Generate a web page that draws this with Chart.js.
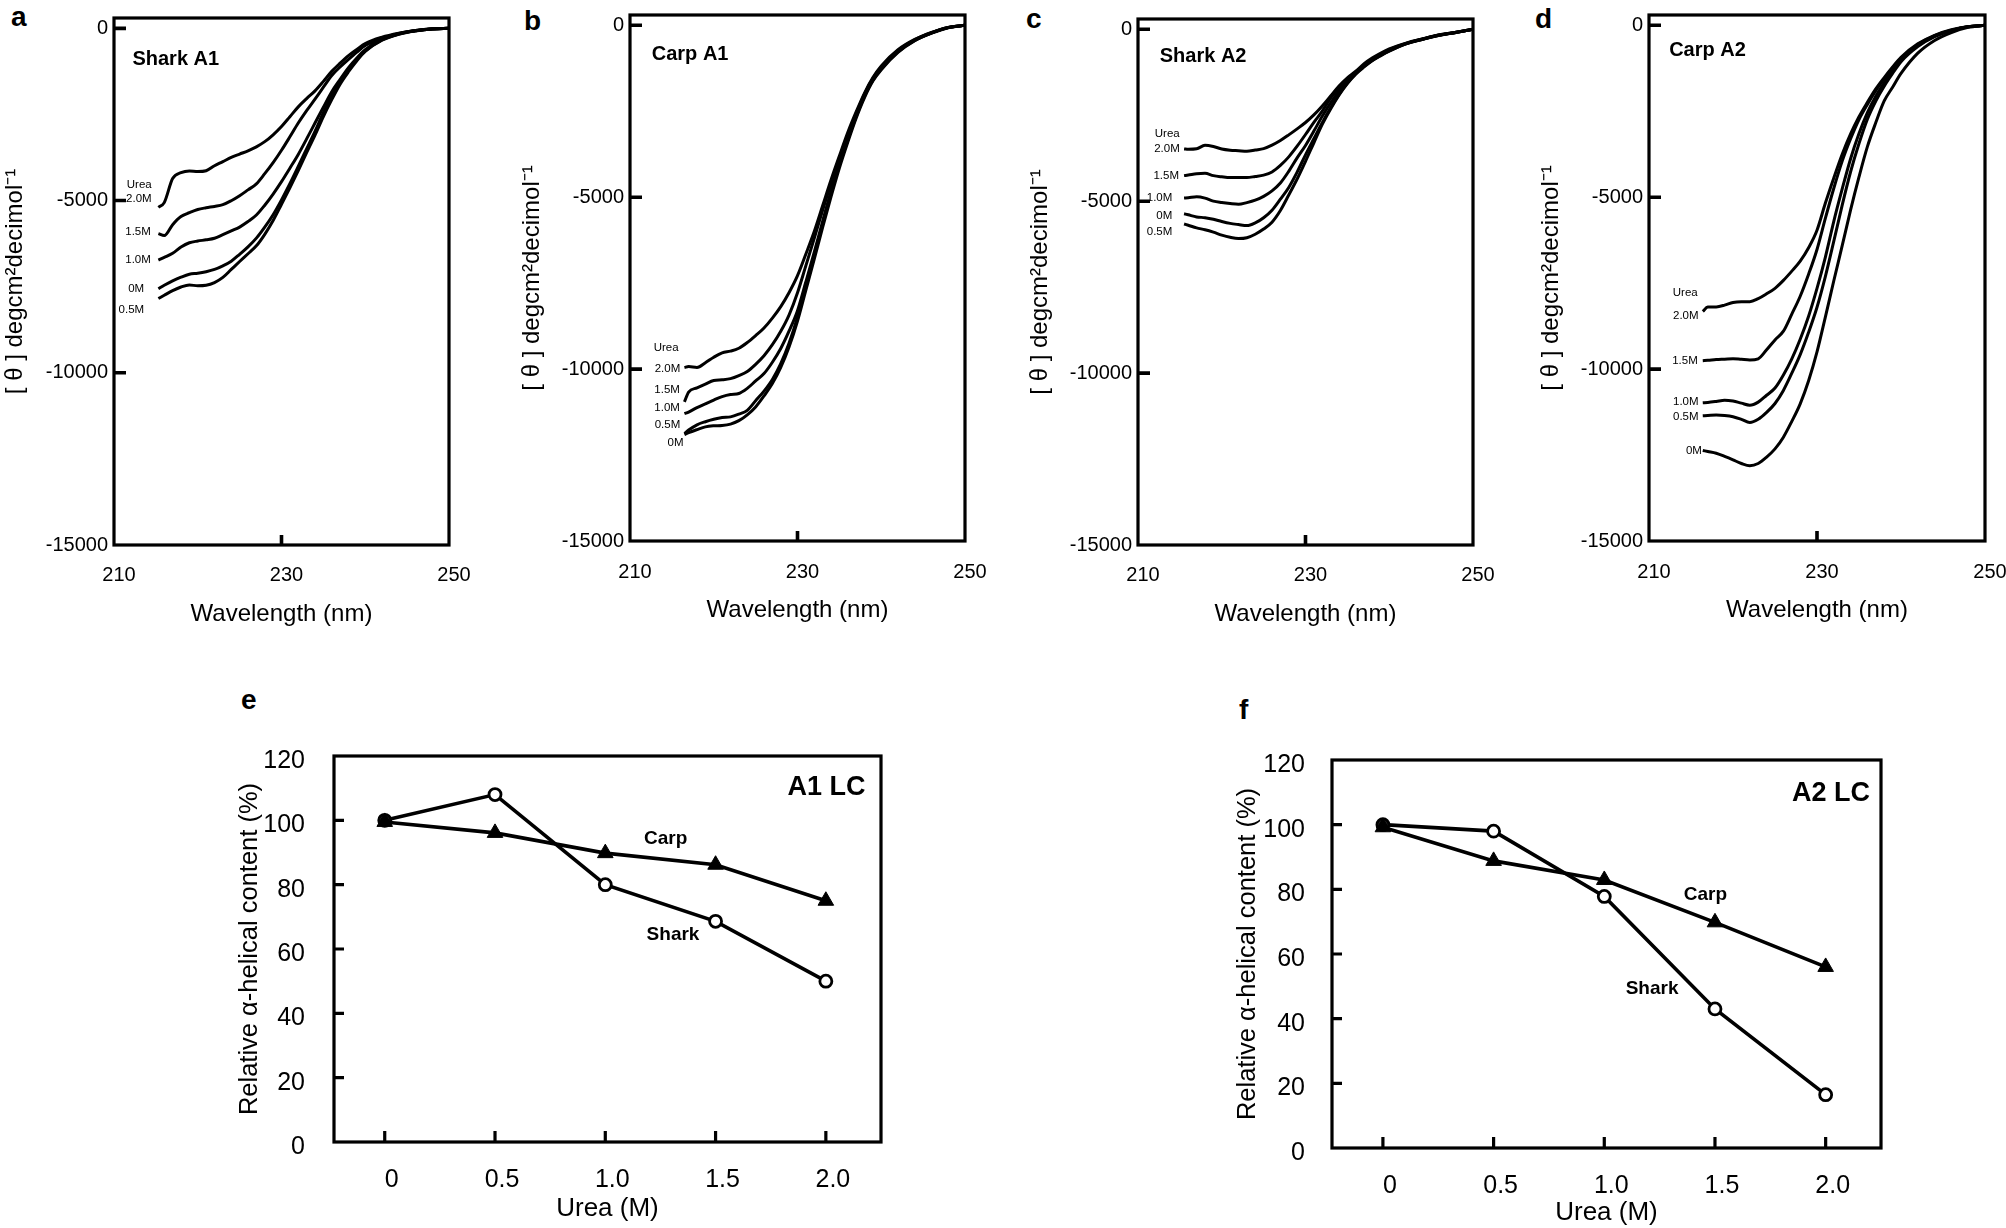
<!DOCTYPE html>
<html>
<head>
<meta charset="utf-8">
<script src="https://cdn.jsdelivr.net/npm/chart.js@4.4.1/dist/chart.umd.min.js"></script>
<style>
  html, body { margin: 0; padding: 0; background: #fff; }
  body { width: 2006px; height: 1228px; position: relative; overflow: hidden; }
  canvas { position: absolute; }
  .letter { position: absolute; font: bold 28px 'Liberation Sans', Arial, sans-serif; line-height: 1; color: #000; }
</style>
</head>
<body>
<div class="letter" style="left:11px;top:3px">a</div>
<div class="letter" style="left:524px;top:7px">b</div>
<div class="letter" style="left:1026px;top:5px">c</div>
<div class="letter" style="left:1535px;top:5px">d</div>
<div class="letter" style="left:241px;top:686px">e</div>
<div class="letter" style="left:1239px;top:696px">f</div>

<canvas id="cdSharkA1"></canvas>
<canvas id="cdCarpA1"></canvas>
<canvas id="cdSharkA2"></canvas>
<canvas id="cdCarpA2"></canvas>
<canvas id="helixA1"></canvas>
<canvas id="helixA2"></canvas>

<script>
// ---- data ----
// CD spectra, wavelength grids (nm)
const wlSharkA1 = [215.3, 216, 217, 218, 219, 220, 221, 222, 223, 224, 225, 226, 227, 228, 229, 230, 231, 232, 233, 234, 235, 236, 237, 238, 239, 240, 242, 244, 246, 248, 250];
const wlCarpA1  = [216.5, 217, 218, 219, 220, 221, 222, 223, 224, 225, 226, 227, 228, 229, 230, 231, 232, 233, 234, 235, 236, 237, 238, 239, 240, 242, 244, 246, 248, 250];
const wlSharkA2 = [215.5, 216, 217, 218, 219, 220, 221, 222, 223, 224, 225, 226, 227, 228, 229, 230, 231, 232, 233, 234, 235, 236, 237, 238, 239, 240, 242, 244, 246, 248, 250];
const wlCarpA2  = [216.4, 217, 218, 219, 220, 221, 222, 223, 224, 225, 226, 227, 228, 229, 230, 231, 232, 233, 234, 235, 236, 237, 238, 239, 240, 242, 244, 246, 248, 250];

// [theta] values per urea concentration
const sharkA1_0M  = [-7560, -7460, -7332, -7225, -7140, -7110, -7065, -7000, -6895, -6760, -6560, -6345, -6090, -5770, -5410, -4980, -4510, -4010, -3500, -2990, -2450, -1960, -1540, -1200, -890, -650, -335, -165, -72, -17, 0];
const sharkA1_05M = [-7845, -7750, -7617, -7510, -7450, -7475, -7460, -7380, -7230, -7000, -6770, -6545, -6315, -5980, -5580, -5110, -4630, -4130, -3610, -3100, -2560, -2070, -1620, -1260, -940, -670, -345, -170, -75, -18, 0];
const sharkA1_10M = [-6726, -6650, -6532, -6350, -6225, -6175, -6140, -6095, -5990, -5880, -5770, -5610, -5420, -5135, -4810, -4450, -4060, -3660, -3210, -2750, -2290, -1840, -1480, -1140, -860, -620, -315, -160, -70, -16, 0];
const sharkA1_15M = [-5961, -6018, -5700, -5465, -5353, -5260, -5210, -5170, -5120, -5005, -4860, -4690, -4515, -4220, -3900, -3540, -3150, -2750, -2390, -2055, -1710, -1370, -1120, -900, -690, -500, -290, -150, -65, -14, 0];
const sharkA1_20M = [-5196, -5060, -4362, -4191, -4140, -4160, -4134, -3990, -3870, -3745, -3650, -3555, -3440, -3290, -3090, -2850, -2565, -2280, -2040, -1815, -1540, -1250, -1010, -790, -610, -440, -255, -140, -60, -12, 0];

const carpA1_0M  = [-11906, -11850, -11760, -11680, -11650, -11640, -11600, -11500, -11330, -11100, -10780, -10420, -9950, -9350, -8600, -7700, -6800, -5880, -4990, -4150, -3400, -2700, -2100, -1620, -1290, -790, -450, -230, -70, 0];
const carpA1_05M = [-11871, -11774, -11620, -11530, -11460, -11410, -11390, -11310, -11200, -10920, -10640, -10300, -9840, -9240, -8490, -7580, -6690, -5780, -4890, -4070, -3340, -2660, -2070, -1600, -1270, -770, -440, -225, -68, 0];
const carpA1_10M = [-11298, -11250, -11120, -11010, -10900, -10800, -10740, -10710, -10560, -10345, -10130, -9800, -9400, -8890, -8300, -7460, -6600, -5700, -4830, -4030, -3300, -2630, -2040, -1580, -1250, -750, -430, -220, -66, 0];
const carpA1_15M = [-10954, -10667, -10545, -10434, -10330, -10310, -10277, -10190, -10070, -9860, -9610, -9290, -8900, -8420, -7780, -6990, -6194, -5380, -4620, -3900, -3200, -2570, -2000, -1550, -1210, -730, -420, -215, -62, 0];
const carpA1_20M = [-9956, -9925, -9950, -9816, -9655, -9528, -9478, -9393, -9228, -9025, -8803, -8516, -8182, -7771, -7283, -6653, -6000, -5250, -4500, -3800, -3120, -2520, -1970, -1520, -1180, -710, -410, -205, -60, 0];

const sharkA2_0M  = [-5365, -5395, -5457, -5480, -5525, -5590, -5645, -5680, -5709, -5630, -5480, -5260, -4940, -4600, -4155, -3650, -3180, -2715, -2280, -1890, -1560, -1290, -1080, -900, -755, -625, -420, -288, -170, -90, 0];
const sharkA2_05M = [-5663, -5700, -5777, -5830, -5900, -5985, -6050, -6086, -6063, -5960, -5810, -5610, -5270, -4820, -4355, -3840, -3300, -2765, -2315, -1915, -1580, -1305, -1095, -910, -765, -635, -425, -290, -172, -91, 0];
const sharkA2_10M = [-4908, -4900, -4870, -4910, -4999, -5040, -5070, -5090, -5040, -4970, -4860, -4700, -4470, -4130, -3740, -3380, -2960, -2530, -2140, -1800, -1500, -1260, -1060, -890, -740, -610, -415, -285, -168, -88, 0];
const sharkA2_15M = [-4256, -4240, -4200, -4190, -4256, -4290, -4313, -4313, -4313, -4280, -4240, -4150, -3960, -3710, -3400, -3060, -2705, -2380, -2000, -1710, -1460, -1245, -1050, -880, -720, -590, -410, -280, -165, -87, 0];
const sharkA2_20M = [-3478, -3490, -3475, -3375, -3410, -3480, -3515, -3530, -3546, -3510, -3470, -3370, -3235, -3070, -2895, -2710, -2490, -2230, -1940, -1650, -1410, -1220, -1000, -830, -690, -570, -400, -275, -160, -85, 0];

const carpA2_0M  = [-12366, -12396, -12446, -12540, -12640, -12745, -12812, -12745, -12560, -12320, -11980, -11520, -11010, -10340, -9500, -8480, -7430, -6410, -5370, -4410, -3530, -2830, -2200, -1800, -1400, -810, -440, -210, -60, 0];
const carpA2_05M = [-11358, -11350, -11336, -11350, -11385, -11460, -11553, -11460, -11260, -11000, -10620, -10120, -9580, -8930, -8200, -7300, -6280, -5230, -4260, -3440, -2730, -2200, -1770, -1400, -1060, -620, -330, -158, -44, 0];
const carpA2_10M = [-10980, -10970, -10940, -10905, -10930, -10990, -11049, -10960, -10760, -10550, -10170, -9700, -9130, -8460, -7650, -6740, -5700, -4760, -3880, -3150, -2540, -2060, -1670, -1330, -1010, -590, -315, -150, -42, 0];
const carpA2_15M = [-9755, -9745, -9721, -9710, -9698, -9716, -9733, -9700, -9440, -9150, -8897, -8400, -7880, -7240, -6520, -5610, -4740, -3950, -3300, -2740, -2300, -1900, -1560, -1250, -960, -560, -300, -140, -40, 0];
const carpA2_20M = [-8324, -8195, -8190, -8140, -8060, -8038, -8038, -7950, -7810, -7650, -7420, -7150, -6860, -6470, -5960, -5170, -4440, -3750, -3160, -2660, -2240, -1850, -1520, -1210, -930, -540, -290, -130, -35, 0];

// relative alpha-helical content vs urea
const ureaM = [0, 0.5, 1.0, 1.5, 2.0];
const sharkA1Helix = [100, 108, 80, 68.6, 50];
const carpA1Helix  = [99.5, 96.1, 89.8, 86.2, 75];
const sharkA2Helix = [100, 98, 77.8, 43, 16.5];
const carpA2Helix  = [99.2, 88.8, 82.9, 69.8, 56];

// tick labels
const cdTicksX = [210, 230, 250];
const cdTicksY = [0, -5000, -10000, -15000];
const helixTicksX = [0, 0.5, 1.0, 1.5, 2.0];
const helixTickLabelsX = ['0', '0.5', '1.0', '1.5', '2.0'];
const helixTicksY = [0, 20, 40, 60, 80, 100, 120];

// ---- drawing ----
const SANS = "'Liberation Sans', Arial, sans-serif";

Chart.defaults.color = '#000';
Chart.defaults.font.family = SANS;

// frame, inner tick marks and in-plot text
function decorFor(spec, notes) {
  return {
    id: 'decor',
    afterDatasetsDraw(chart) {
      const {ctx, chartArea: a, scales: {x, y}} = chart;
      ctx.save();
      ctx.strokeStyle = '#000';
      ctx.lineWidth = spec.frameWidth;
      ctx.strokeRect(a.left, a.top, a.right - a.left, a.bottom - a.top);
      ctx.lineWidth = spec.markWidth;
      ctx.lineCap = 'butt';
      ctx.beginPath();
      for (const v of spec.yMarks) {
        const py = y.getPixelForValue(v);
        ctx.moveTo(a.left, py);
        ctx.lineTo(a.left + spec.yMarkLen, py);
      }
      for (const v of spec.xMarks) {
        const px = x.getPixelForValue(v);
        ctx.moveTo(px, a.bottom);
        ctx.lineTo(px, a.bottom - spec.xMarkLen);
      }
      ctx.stroke();
      ctx.fillStyle = '#000';
      ctx.textBaseline = 'middle';
      for (const n of notes) {
        ctx.font = n.font;
        ctx.textAlign = n.align || 'left';
        ctx.fillText(n.text, x.getPixelForValue(n.x), y.getPixelForValue(n.y));
      }
      ctx.restore();
    }
  };
}

function buildPanel(id, geo, spec, datasets, notes) {
  const f = {x: geo.yTitleX - 18, y: geo.box.t - 20};
  f.w = geo.box.r + 40 - f.x;
  f.h = geo.xTitleY + 24 - f.y;
  const canvas = document.getElementById(id);
  canvas.width = f.w;
  canvas.height = f.h;
  Object.assign(canvas.style, {left: f.x + 'px', top: f.y + 'px', width: f.w + 'px', height: f.h + 'px'});
  const lhX = spec.xTitleSize * 1.2, lhY = spec.yTitleSize * 1.2;

  return new Chart(canvas, {
    type: 'line',
    data: {datasets},
    options: {
      responsive: false,
      animation: false,
      devicePixelRatio: 1,
      layout: {padding: {top: geo.box.t - f.y, right: f.x + f.w - geo.box.r, left: 0, bottom: 0}},
      plugins: {legend: {display: false}, tooltip: {enabled: false}},
      scales: {
        x: {
          type: 'linear', min: spec.xMin, max: spec.xMax,
          grid: {display: false, drawTicks: false}, border: {display: false},
          afterBuildTicks: s => { s.ticks = spec.xTicks.map(v => ({value: v})); },
          afterFit: s => { s.height = f.y + f.h - geo.box.b; },
          ticks: {
            font: {size: spec.tickSize},
            padding: geo.xLabelY - geo.box.b - 0.6 * spec.tickSize,
            labelOffset: spec.labelOffset, maxRotation: 0, autoSkip: false,
            callback: spec.xFormat
          },
          title: {display: true, text: spec.xTitle, font: {size: spec.xTitleSize},
                  padding: {top: 0, bottom: f.y + f.h - geo.xTitleY - lhX / 2}}
        },
        y: {
          type: 'linear', min: spec.yMin, max: spec.yMax,
          grid: {display: false, drawTicks: false}, border: {display: false},
          afterBuildTicks: s => { s.ticks = spec.yTicks.map(v => ({value: v})); },
          afterFit: s => { s.width = geo.box.l - f.x; },
          ticks: {font: {size: spec.tickSize}, padding: geo.yLabelGap, autoSkip: false,
                  labelOffset: spec.yLabelOffset, callback: v => String(v)},
          title: {display: true, text: spec.yTitle, font: {size: spec.yTitleSize},
                  padding: {top: geo.yTitleX - f.x - lhY / 2, bottom: 0}}
        }
      }
    },
    plugins: [decorFor(spec, notes)]
  });
}

// ---- CD panels ----
const cdSpec = {
  tickSize: 20, xTitleSize: 24, yTitleSize: 24, frameWidth: 3.2, markWidth: 3.6,
  xMin: 210, xMax: 250, yMin: -15000, yMax: 300,
  xTicks: cdTicksX, yTicks: cdTicksY, xFormat: v => String(v), labelOffset: 5, yLabelOffset: 0,
  xMarks: [230], yMarks: [0, -5000, -10000], xMarkLen: 10, yMarkLen: 12,
  xTitle: 'Wavelength (nm)', yTitle: '[ θ ] degcm²decimol⁻¹'
};

function cdLines(wl, seriesList) {
  return seriesList.map(vals => ({
    data: wl.map((w, i) => ({x: w, y: vals[i]})),
    borderColor: '#000', borderWidth: 3, pointRadius: 0,
    cubicInterpolationMode: 'monotone', fill: false
  }));
}

const small = '11.5px ' + SANS;
const bold = 'bold 20px ' + SANS;

buildPanel('cdSharkA1',
  {box: {l: 114, t: 18, r: 449, b: 545}, yTitleX: 15, xTitleY: 614, xLabelY: 575, yLabelGap: 6},
  cdSpec,
  cdLines(wlSharkA1, [sharkA1_0M, sharkA1_05M, sharkA1_10M, sharkA1_15M, sharkA1_20M]),
  [
    {text: 'Shark A1', x: 212.2, y: -914, font: bold},
    {text: 'Urea', x: 214.5, y: -4534, align: 'right', font: small},
    {text: '2.0M', x: 214.5, y: -4956, align: 'right', font: small},
    {text: '1.5M', x: 214.4, y: -5904, align: 'right', font: small},
    {text: '1.0M', x: 214.4, y: -6726, align: 'right', font: small},
    {text: '0M', x: 213.6, y: -7560, align: 'right', font: small},
    {text: '0.5M', x: 213.6, y: -8165, align: 'right', font: small}
  ]);

buildPanel('cdCarpA1',
  {box: {l: 630, t: 15, r: 965, b: 541}, yTitleX: 532, xTitleY: 610, xLabelY: 572, yLabelGap: 6},
  cdSpec,
  cdLines(wlCarpA1, [carpA1_0M, carpA1_05M, carpA1_10M, carpA1_15M, carpA1_20M]),
  [
    {text: 'Carp A1', x: 212.6, y: -837, font: bold},
    {text: 'Urea', x: 215.8, y: -9371, align: 'right', font: small},
    {text: '2.0M', x: 216.0, y: -9979, align: 'right', font: small},
    {text: '1.5M', x: 215.96, y: -10610, align: 'right', font: small},
    {text: '1.0M', x: 215.96, y: -11126, align: 'right', font: small},
    {text: '0.5M', x: 216.0, y: -11619, align: 'right', font: small},
    {text: '0M', x: 216.4, y: -12158, align: 'right', font: small}
  ]);

buildPanel('cdSharkA2',
  {box: {l: 1138, t: 19, r: 1473, b: 545}, yTitleX: 1040, xTitleY: 614, xLabelY: 575, yLabelGap: 6},
  cdSpec,
  cdLines(wlSharkA2, [sharkA2_0M, sharkA2_05M, sharkA2_10M, sharkA2_15M, sharkA2_20M]),
  [
    {text: 'Shark A2', x: 212.6, y: -789, font: bold},
    {text: 'Urea', x: 214.98, y: -3032, align: 'right', font: small},
    {text: '2.0M', x: 214.98, y: -3478, align: 'right', font: small},
    {text: '1.5M', x: 214.9, y: -4267, align: 'right', font: small},
    {text: '1.0M', x: 214.1, y: -4908, align: 'right', font: small},
    {text: '0M', x: 214.1, y: -5411, align: 'right', font: small},
    {text: '0.5M', x: 214.1, y: -5892, align: 'right', font: small}
  ]);

buildPanel('cdCarpA2',
  {box: {l: 1649, t: 15, r: 1985, b: 541}, yTitleX: 1551, xTitleY: 610, xLabelY: 572, yLabelGap: 6},
  cdSpec,
  cdLines(wlCarpA2, [carpA2_0M, carpA2_05M, carpA2_10M, carpA2_15M, carpA2_20M]),
  [
    {text: 'Carp A2', x: 212.4, y: -744, font: bold},
    {text: 'Urea', x: 215.8, y: -7786, align: 'right', font: small},
    {text: '2.0M', x: 215.9, y: -8439, align: 'right', font: small},
    {text: '1.5M', x: 215.8, y: -9755, align: 'right', font: small},
    {text: '1.0M', x: 215.9, y: -10958, align: 'right', font: small},
    {text: '0.5M', x: 215.9, y: -11393, align: 'right', font: small},
    {text: '0M', x: 216.3, y: -12366, align: 'right', font: small}
  ]);

// ---- helical content panels ----
const helixSpec = {
  tickSize: 25, xTitleSize: 26, yTitleSize: 25.5, frameWidth: 3.2, markWidth: 3.2,
  xMin: -0.23, xMax: 2.25, yMin: 0, yMax: 120,
  xTicks: helixTicksX, yTicks: helixTicksY, xFormat: (v, i) => helixTickLabelsX[i], labelOffset: 7, yLabelOffset: 5,
  xMarks: helixTicksX, yMarks: [20, 40, 60, 80, 100], xMarkLen: 11, yMarkLen: 10,
  xTitle: 'Urea (M)', yTitle: 'Relative α-helical content (%)'
};

function helixLines(shark, carp) {
  return [
    {
      data: ureaM.map((u, i) => ({x: u, y: carp[i]})),
      borderColor: '#000', borderWidth: 3.6, tension: 0,
      pointStyle: 'triangle', pointRadius: 9, pointBackgroundColor: '#000', pointBorderColor: '#000', pointBorderWidth: 1
    },
    {
      data: ureaM.map((u, i) => ({x: u, y: shark[i]})),
      borderColor: '#000', borderWidth: 3.6, tension: 0,
      pointStyle: 'circle', pointRadius: 6, pointBorderWidth: 2.8, pointBorderColor: '#000',
      pointBackgroundColor: ['#222', '#fff', '#fff', '#fff', '#fff']
    }
  ];
}

const mid = 'bold 19px ' + SANS;
const big = 'bold 27px ' + SANS;

buildPanel('helixA1',
  {box: {l: 334, t: 732, r: 881, b: 1142}, yTitleX: 250, xTitleY: 1209, xLabelY: 1180, yLabelGap: 29},
  helixSpec,
  helixLines(sharkA1Helix, carpA1Helix),
  [
    {text: 'A1 LC', x: 2.18, y: 110.3, align: 'right', font: big},
    {text: 'Carp', x: 1.274, y: 94.2, align: 'center', font: mid},
    {text: 'Shark', x: 1.307, y: 64.5, align: 'center', font: mid}
  ]);

buildPanel('helixA2',
  {box: {l: 1332, t: 738, r: 1881, b: 1148}, yTitleX: 1248, xTitleY: 1213, xLabelY: 1186, yLabelGap: 27},
  helixSpec,
  helixLines(sharkA2Helix, carpA2Helix),
  [
    {text: 'A2 LC', x: 2.2, y: 109.7, align: 'right', font: big},
    {text: 'Carp', x: 1.457, y: 78.3, align: 'center', font: mid},
    {text: 'Shark', x: 1.216, y: 49.3, align: 'center', font: mid}
  ]);
</script>
</body>
</html>
